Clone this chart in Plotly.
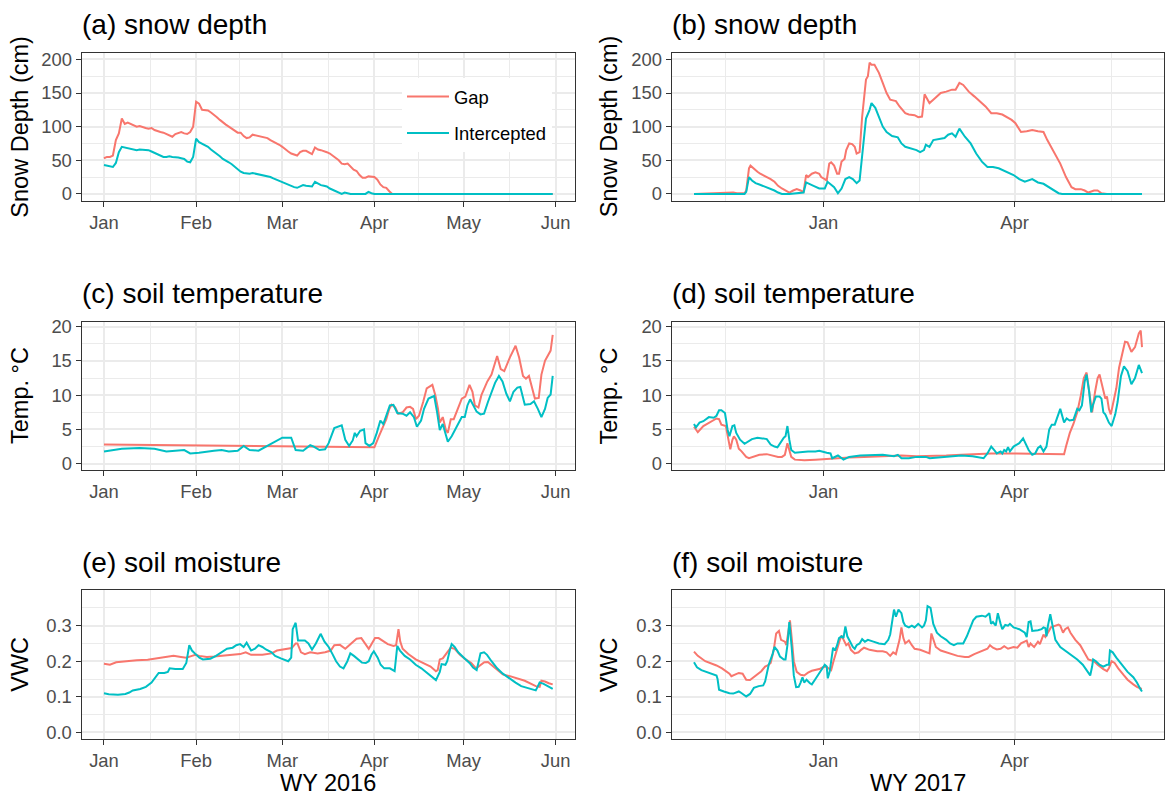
import pandas as pd
import plotly.graph_objects as go

W, H = 1166, 805

# ---------------- data (day offsets from base date) ----------------
BASE16 = "2016-01-01"   # left panels
BASE17 = "2016-11-01"   # right panels

a_gap_day = list(range(0, 98)) + [151]
a_gap_val = [53, 55, 55, 57, 80, 90, 112, 104, 106, 104, 101, 100, 101, 99, 98, 97, 98, 95, 93, 92,
             91, 89, 87, 85, 89, 91, 92, 90, 89, 92, 100, 137, 134, 125, 124, 124, 121, 118, 114, 110,
             106, 103, 100, 97, 93, 91, 91, 86, 83, 84, 88, 87, 86, 86, 85, 83, 80, 78, 75, 73,
             70, 66, 63, 60, 58, 57, 62, 64, 64, 62, 59, 69, 66, 65, 64, 62, 60, 57, 54, 50,
             45, 44, 45, 40, 36, 34, 28, 24, 24, 26, 25, 25, 21, 14, 10, 9, 4, 0, 0]
a_int_day = list(range(0, 84)) + [88, 89, 90, 91, 151]
a_int_val = [43, 42, 41, 40, 46, 62, 70, 69, 68, 67, 65, 65, 66, 66, 65, 65, 63, 61, 59, 57,
             55, 55, 56, 55, 55, 54, 53, 52, 48, 47, 55, 82, 77, 75, 72, 70, 66, 63, 59, 56,
             52, 50, 47, 44, 40, 36, 33, 31, 30, 30, 31, 30, 29, 28, 28, 27, 25, 23, 21, 19,
             17, 15, 13, 12, 10, 9, 11, 13, 12, 11, 11, 18, 15, 13, 12, 11, 8, 6, 4, 2,
             0, 2, 1, 0, 0, 3, 1, 0, 0]

b_gap_day = [0, 18.5, 20.2, 23.8, 24.6, 25.9, 26.6, 28.2, 29.9, 31.2, 32.6, 34.3, 36.1, 37.9, 39.6, 41.4,
             43.1, 44.9, 46.7, 48.4, 50.2, 51.6, 52.8, 53.7, 55.5, 57.2, 59.0, 59.9, 61.6, 62.5, 63.7,
             64.6, 66.0, 67.4, 68.3, 69.5, 70.9, 71.7, 73.1, 74.5, 75.7, 76.6, 78.0, 79.2, 81.0, 81.9,
             82.7, 83.6, 85.0, 87.1, 88.9, 90.7, 92.4, 95.1, 96.8, 99.5, 101.2, 103.9, 105.6, 107.4,
             108.6, 109.7, 110.9, 112.7, 114.4, 116.2, 118.8, 121.5, 123.2, 125.0, 126.8, 129.4, 132.0,
             134.7, 137.3, 140.0, 142.6, 145.2, 147.0, 149.6, 151.4, 154.0, 156.7, 159.3, 162.0, 164.6,
             166.4, 169.9, 172.5, 175.2, 177.8, 179.6, 182.2, 184.0, 185.7, 188.4, 190.1, 191.9, 194.5, 211]
b_gap_val = [0, 2, 1, 1, 5, 38, 42, 37, 33, 30, 28, 25, 22, 18, 12, 8,
             5, 2, 5, 7, 5, 3, 28, 25, 30, 32, 30, 25, 22, 20, 45,
             47, 42, 30, 30, 48, 52, 65, 75, 74, 70, 60, 62, 115, 170, 175,
             195, 192, 192, 180, 165, 150, 140, 138, 130, 120, 118, 117, 114, 115,
             148, 142, 135, 140, 145, 150, 152, 155, 155, 165, 162, 152, 145,
             138, 130, 120, 120, 118, 115, 110, 105, 92, 93, 95, 93, 92,
             80, 60, 45, 25, 10, 7, 7, 5, 2, 5, 5, 1, 0, 0]
b_int_day = [0, 23.8, 24.6, 25.9, 27.3, 29.0, 30.8, 32.6, 34.3, 36.1, 37.9, 39.6, 41.4, 44.9, 48.4, 51.6,
             52.8, 54.6, 56.3, 59.0, 61.6, 62.9, 64.3, 66.0, 67.8, 69.5, 71.3, 73.1, 74.8, 76.6, 78.0,
             79.2, 81.0, 82.7, 83.6, 85.4, 87.1, 88.9, 90.7, 93.3, 96.0, 97.7, 99.5, 102.1, 104.8, 106.5,
             108.3, 109.2, 110.9, 112.7, 115.3, 118.0, 119.7, 121.5, 123.2, 125.0, 127.6, 130.3, 132.9,
             135.6, 138.2, 140.8, 143.5, 147.0, 150.5, 153.2, 155.8, 159.3, 162.0, 164.6, 168.1, 171.7,
             173.4, 211]
b_int_val = [0, 0, 3, 25, 20, 16, 14, 12, 10, 8, 5, 2, 0, 0, 1, 2,
             17, 15, 12, 8, 8, 18, 14, 10, 1, 8, 22, 25, 22, 16, 20,
             60, 112, 125, 135, 128, 115, 100, 92, 86, 84, 75, 70, 68, 65, 62,
             65, 73, 70, 80, 82, 83, 88, 90, 85, 97, 85, 75, 60,
             48, 40, 40, 38, 33, 28, 22, 18, 22, 17, 15, 8, 1,
             0, 0]

c_gap_day = [0, 30, 60, 91, 92.5, 94, 95, 96, 96.8, 98, 99, 100.5, 101.8, 103, 104, 105, 106, 107.4,
             108.6, 110.5, 111.5, 112.4, 113, 114, 115, 115.7, 116.7, 117.7, 119, 120.4, 121.6, 123,
             124, 124.8, 126, 127, 129, 130.4, 132.3, 133.5, 134.7, 136.6, 138.5, 139.7, 141, 142,
             143, 144, 145, 146.3, 147.2, 148.4, 150.3, 151]
c_gap_val = [2.8, 2.65, 2.5, 2.4, 4.0, 5.5, 6.5, 8.0, 8.6, 8.2, 7.3, 7.5, 8.2, 8.3, 8.0, 6.5, 7.0, 9.0,
             11.0, 11.5, 10.0, 8.0, 6.0, 6.8, 5.0, 4.5, 6.5, 6.5, 8.0, 9.5, 9.8, 11.5,
             10.5, 8.5, 8.2, 10.0, 12.0, 13.0, 15.7, 13.8, 13.5, 15.5, 17.2, 15.5, 12.8, 12.4,
             12.8, 11.0, 9.5, 9.6, 13.0, 15.0, 16.5, 18.8]
c_int_day = [0, 6, 12, 17, 21, 24.5, 27, 29, 32, 37, 39.6, 42, 45, 47, 49, 52, 54.5, 56.4, 58, 60, 63,
             64.5, 67, 69.4, 70.6, 72.5, 74.4, 75.6, 77.5, 80, 81.2, 82.5, 83.7, 84.4, 85, 86.2, 87.5,
             88, 89.3, 90.6, 91.8, 93, 94, 95, 96.2, 97.4, 98.7, 100.5, 101.8, 103, 104.3, 105.3,
             106.7, 107.7, 109.2, 110.7, 111.1, 112.1, 113, 114, 114.9, 115.7, 117, 118.6, 120.4,
             121.4, 122.3, 123.2, 124.2, 125.4, 126.7, 127.9, 129.2, 130.4, 131.6, 132.9, 134.1,
             135.4, 136.6, 137.8, 139.1, 140.1, 141, 141.6, 143.5, 144.7, 146, 147.2, 148.4, 149.3,
             150.3, 151]
c_int_val = [1.8, 2.2, 2.3, 2.2, 1.8, 1.9, 2.0, 1.5, 1.6, 1.9, 2.0, 1.8, 1.9, 2.6, 2.0, 1.9, 2.5, 3.0, 3.3, 3.8, 3.8,
             2.0, 1.9, 2.7, 2.5, 2.0, 2.1, 3.0, 5.2, 5.6, 3.5, 2.6, 3.4, 4.5, 4.0, 4.8, 5.0,
             3.0, 2.6, 3.0, 4.5, 6.3, 5.8, 7.0, 8.5, 8.6, 7.4, 7.3, 7.0, 7.5, 6.8, 5.4,
             6.3, 8.0, 9.5, 9.8, 9.9, 7.5, 4.9, 5.8, 4.5, 3.2, 4.0, 5.3, 6.8,
             6.8, 8.5, 9.4, 8.5, 7.6, 7.2, 7.3, 9.0, 10.5, 11.8, 12.8, 12.0,
             10.2, 9.1, 10.5, 11.1, 11.2, 9.5, 8.6, 8.7, 9.1, 8.0, 6.8, 8.0, 9.6,
             10.1, 12.8]

d_gap_day = [0, 1.8, 4.4, 7.0, 8.8, 10.6, 11.8, 12.9, 15.0, 16.2, 17.1, 18.1, 18.8, 19.9, 21.1, 22.4,
             24.6, 25.9, 28.2, 30.8, 34.3, 37.0, 39.6, 41.4, 42.8, 44.0, 44.9, 45.8, 47.5, 52.0, 57.2,
             61.6, 66.0, 73.1, 80.1, 87.1, 97.7, 104.8, 111.8, 118.8, 125.9, 132.9, 140.0, 150.5, 157.6,
             168.1, 174.3, 175.2, 177.0, 178.7, 180.5, 182.2, 183.6, 184.9, 186.3, 187.5, 188.9, 190.1,
             191.0, 192.4, 193.7, 194.5, 195.4, 196.3, 197.7, 198.9, 200.2, 201.6, 203.0, 204.2, 206.0,
             207.7, 209.5, 210.4, 211.0]
d_gap_val = [5.4, 4.6, 5.5, 6.0, 6.3, 6.6, 6.5, 5.7, 5.5, 3.5, 2.1, 3.5, 4.0, 3.5, 2.2, 1.8,
             1.0, 0.8, 1.0, 1.3, 1.4, 1.2, 1.0, 1.0, 1.3, 3.0, 2.0, 1.0, 0.6, 0.5, 0.6,
             0.7, 0.8, 0.9, 1.0, 1.1, 1.2, 1.1, 1.1, 1.2, 1.3, 1.4, 1.5, 1.5, 1.5,
             1.4, 1.4, 2.5, 4.5, 5.8, 7.5, 10.0, 12.5, 13.3, 10.0, 7.5, 10.5, 12.5,
             13.0, 11.0, 9.5, 9.8, 8.0, 7.2, 9.0, 11.0, 14.0, 16.0, 17.8, 17.7, 16.3,
             17.0, 19.0, 19.4, 17.0]
d_int_day = [0, 0.9, 2.6, 4.4, 7.0, 9.3, 10.6, 11.8, 12.9, 14.6, 15.8, 16.7, 18.1, 19.0, 19.9, 21.7,
             23.8, 25.5, 27.3, 29.9, 32.6, 34.3, 36.1, 37.9, 39.3, 40.5, 42.3, 43.1, 44.0, 44.9, 45.8,
             47.5, 50.2, 53.7, 57.2, 59.0, 62.5, 64.3, 65.1, 67.8, 70.4, 73.1, 78.3, 85.4, 88.9, 94.2,
             96.0, 97.7, 101.2, 104.8, 109.2, 111.0, 115.3, 120.6, 125.9, 131.2, 134.7, 136.4, 138.2,
             140.0, 141.4, 142.6, 144.4, 145.2, 146.1, 147.0, 147.9, 148.8, 150.5, 153.2, 155.0, 156.7,
             157.6, 159.3, 160.7, 162.0, 163.2, 164.6, 166.0, 167.3, 168.5, 169.9, 171.3, 172.5, 174.3,
             175.5, 176.9, 178.7, 180.5, 181.5, 182.7, 184.0, 184.9, 186.1, 187.1, 187.8, 189.3, 191.0,
             191.9, 192.8, 193.7, 195.4, 196.7, 197.7, 198.4, 199.5, 201.1, 202.5, 204.2, 206.0, 207.7,
             209.5, 211.0]
d_int_val = [5.8, 5.3, 6.0, 6.2, 6.8, 6.7, 7.0, 7.8, 7.8, 7.4, 5.0, 4.0, 5.5, 5.6, 4.5, 3.5,
             2.9, 3.2, 3.6, 3.8, 3.7, 3.6, 2.8, 2.5, 2.4, 3.0, 3.8, 4.0, 5.5, 3.5, 2.0,
             1.6, 1.7, 1.8, 1.8, 1.9, 1.6, 1.5, 0.8, 1.2, 0.6, 1.0, 1.2, 1.3, 1.3, 1.1,
             1.3, 0.8, 0.8, 1.0, 1.0, 0.8, 0.9, 1.0, 1.2, 1.1, 0.9, 0.8, 1.5,
             2.5, 2.0, 1.5, 1.8, 1.5, 2.0, 1.8, 2.4, 1.8, 2.5, 3.0, 3.7, 2.5,
             2.0, 1.3, 1.5, 2.3, 2.6, 1.8, 2.5, 5.0, 5.7, 5.7, 7.0, 8.0, 6.0,
             6.6, 6.3, 6.4, 8.0, 7.8, 8.5, 12.0, 13.0, 10.5, 7.5, 8.5, 9.8, 9.8,
             9.5, 7.5, 7.2, 6.0, 5.5, 6.5, 7.2, 9.0, 12.8, 14.2, 13.5, 11.6, 12.5,
             14.4, 13.2]

e_gap_day = [0, 2, 4.1, 7.2, 11, 14.7, 17.2, 18.4, 20.3, 22.1, 23.4, 25.9, 27.7, 29.6, 30.8, 32.1, 34.6,
             37.1, 39.6, 42.7, 45.8, 47.7, 49.5, 53.3, 56.4, 58.2, 60.1, 62, 63.2, 64.5, 65.1, 66.3,
             67.6, 69.4, 71.9, 74.4, 76.3, 77.5, 79.4, 81.2, 83.1, 85, 86.6, 88.1, 89.1, 90, 91.2,
             92.4, 94.3, 95.5, 97.4, 98.3, 99.1, 99.7, 100.5, 102.4, 104.9, 107.4, 109.9, 111.7,
             112.3, 113, 114, 115.5, 116.7, 118, 119.8, 121.7, 123.6, 125.2, 126.1, 128, 129.2,
             130.4, 132.3, 134.2, 136.6, 139.1, 141.6, 145.3, 146.6, 147.2, 148.4, 149.7, 151]
e_gap_val = [0.193, 0.190, 0.197, 0.200, 0.203, 0.204, 0.207, 0.210, 0.212, 0.213, 0.215, 0.212, 0.210,
             0.215, 0.218, 0.215, 0.212, 0.213, 0.215, 0.216, 0.220, 0.225, 0.218, 0.218, 0.222, 0.230,
             0.233, 0.235, 0.237, 0.250, 0.250, 0.225, 0.220, 0.225, 0.222, 0.225, 0.230, 0.245, 0.246,
             0.235, 0.250, 0.263, 0.265, 0.245, 0.235, 0.248, 0.265, 0.265, 0.255, 0.248, 0.243, 0.245,
             0.290, 0.255, 0.235, 0.220, 0.205, 0.195, 0.185, 0.172, 0.175, 0.205, 0.208, 0.225, 0.238,
             0.235, 0.218, 0.205, 0.195, 0.180, 0.185, 0.197, 0.198, 0.190, 0.175, 0.163, 0.158, 0.152,
             0.145, 0.130, 0.128, 0.145, 0.143, 0.138, 0.135]
e_int_day = [0, 1.6, 4.7, 7.2, 8.5, 9.7, 12.2, 14.1, 16, 17, 17.8, 18.4, 20.3, 21.5, 22.1, 24, 26.5,
             27.7, 28.7, 29.6, 30.8, 32.1, 33.3, 35.8, 37.7, 39.6, 41.4, 43.3, 44.5, 45.8, 47, 48,
             49.5, 50.8, 52, 53.3, 54.5, 56.4, 57.6, 59.5, 60.7, 62, 63, 63.5, 64.5, 65.3, 67.6, 68.8,
             70, 71.3, 72.5, 72.9, 74.2, 75.6, 76.9, 78.1, 79.4, 80.6, 81.9, 82.9, 84.1, 85.6, 86.8,
             88.1, 89.1, 90, 90.8, 92.1, 93.1, 94.3, 96.2, 97.8, 98.7, 99.6, 101.2, 103, 104.9, 106.8,
             108.6, 110.5, 111.7, 113, 113.6, 114.9, 115.5, 116.5, 117, 118, 119.2, 121.1, 123, 124.2,
             125.4, 126.1, 126.7, 127.9, 128.9, 130.4, 132.3, 134.2, 136.6, 138.5, 140.4, 142.8, 144.7,
             145.3, 145.9, 146.6, 147.8, 149.1, 150.3, 151]
e_int_val = [0.110, 0.107, 0.106, 0.108, 0.112, 0.118, 0.122, 0.128, 0.140, 0.150, 0.158, 0.167, 0.167,
             0.170, 0.180, 0.178, 0.178, 0.195, 0.245, 0.230, 0.220, 0.210, 0.205, 0.207, 0.215, 0.225,
             0.235, 0.238, 0.245, 0.248, 0.240, 0.252, 0.230, 0.235, 0.245, 0.240, 0.233, 0.225, 0.215,
             0.208, 0.205, 0.200, 0.210, 0.290, 0.308, 0.258, 0.258, 0.250, 0.233, 0.250, 0.270, 0.277,
             0.255, 0.240, 0.220, 0.200, 0.185, 0.180, 0.200, 0.222, 0.215, 0.205, 0.196, 0.195, 0.200,
             0.218, 0.228, 0.210, 0.190, 0.180, 0.180, 0.172, 0.243, 0.230, 0.215, 0.205, 0.190, 0.180,
             0.168, 0.155, 0.147, 0.170, 0.192, 0.190, 0.200, 0.235, 0.248, 0.240, 0.225, 0.210, 0.195,
             0.182, 0.175, 0.200, 0.222, 0.225, 0.218, 0.200, 0.180, 0.165, 0.150, 0.140, 0.130, 0.125,
             0.120, 0.118, 0.128, 0.140, 0.137, 0.130, 0.125, 0.122]

f_gap_day = [0, 1.8, 5.3, 7.9, 10.6, 13.2, 15.0, 16.7, 17.6, 19.4, 21.1, 22.9, 23.8, 24.6, 26.4, 28.2,
             29.9, 31.7, 33.5, 35.2, 36.1, 37.5, 38.7, 40.0, 41.0, 42.8, 43.5, 44.5, 45.2, 46.1, 47.0,
             48.4, 50.2, 51.9, 53.7, 55.5, 59.0, 60.7, 62.1, 63.4, 64.6, 65.7, 66.4, 67.8, 68.7, 69.5,
             70.4, 71.7, 72.7, 73.9, 75.7, 77.5, 78.7, 80.1, 82.7, 86.3, 88.9, 90.7, 92.4, 93.8, 95.1,
             96.8, 97.7, 98.6, 99.5, 101.2, 102.6, 103.9, 106.5, 110.0, 110.9, 111.8, 112.7, 113.9,
             116.2, 120.6, 124.1, 127.6, 129.4, 132.0, 135.6, 138.2, 139.4, 140.8, 142.6, 144.4, 146.1,
             147.9, 150.5, 152.3, 154.0, 155.8, 156.7, 157.6, 158.5, 159.3, 160.2, 162.0, 162.9, 164.6,
             165.5, 168.1, 171.7, 172.5, 173.8, 174.8, 176.1, 177.3, 179.6, 181.9, 184.0, 185.7, 188.4,
             190.1, 192.8, 194.5, 195.4, 196.7, 198.1, 199.8, 202.5, 204.2, 206.9, 208.6, 210.9]
f_gap_val = [0.227, 0.215, 0.200, 0.195, 0.188, 0.180, 0.172, 0.165, 0.158, 0.162, 0.167, 0.165, 0.157,
             0.148, 0.147, 0.155, 0.163, 0.172, 0.185, 0.190, 0.195, 0.230, 0.278, 0.285, 0.260, 0.255,
             0.245, 0.280, 0.315, 0.260, 0.200, 0.170, 0.162, 0.160, 0.168, 0.173, 0.178, 0.183, 0.185,
             0.180, 0.175, 0.200, 0.215, 0.245, 0.260, 0.272, 0.260, 0.245, 0.250, 0.232, 0.222, 0.225,
             0.232, 0.238, 0.232, 0.228, 0.228, 0.225, 0.215, 0.225, 0.220, 0.260, 0.295, 0.265, 0.250,
             0.258, 0.245, 0.235, 0.232, 0.225, 0.222, 0.278, 0.260, 0.240, 0.230, 0.222, 0.215, 0.212,
             0.212, 0.220, 0.230, 0.235, 0.245, 0.238, 0.233, 0.235, 0.242, 0.235, 0.240, 0.238, 0.250,
             0.255, 0.258, 0.240, 0.250, 0.245, 0.240, 0.255, 0.248, 0.275, 0.268, 0.295, 0.303, 0.300,
             0.280, 0.290, 0.295, 0.280, 0.260, 0.245, 0.225, 0.205, 0.200, 0.190, 0.178, 0.172, 0.180,
             0.200, 0.195, 0.180, 0.160, 0.148, 0.135, 0.128, 0.122]
f_int_day = [0, 1.4, 3.5, 6.2, 8.8, 10.0, 10.6, 11.1, 11.8, 14.1, 16.7, 18.5, 21.1, 22.0, 23.8, 24.6,
             26.4, 28.2, 30.5, 32.6, 33.5, 34.3, 35.2, 37.0, 37.9, 39.3, 40.5, 42.3, 43.1, 44.0, 44.9,
             46.0, 47.0, 48.1, 49.3, 50.2, 51.1, 51.9, 53.0, 54.6, 55.5, 57.2, 59.0, 60.4, 61.6, 62.5,
             63.0, 63.9, 65.5, 66.4, 67.4, 68.3, 69.5, 70.4, 71.3, 72.2, 73.4, 74.8, 75.7, 76.6, 78.0,
             79.2, 80.5, 81.9, 84.5, 87.1, 89.8, 91.5, 92.4, 93.3, 94.2, 95.1, 96.3, 97.7, 98.6, 99.5,
             101.2, 102.6, 103.9, 105.6, 107.4, 108.3, 109.2, 110.0, 111.4, 112.7, 114.4, 116.2, 118.8,
             120.6, 122.4, 124.1, 126.8, 128.5, 130.3, 131.5, 133.0, 135.6, 137.3, 139.1, 139.9, 140.8,
             142.1, 143.1, 144.4, 145.2, 146.6, 147.9, 148.8, 150.5, 153.2, 155.8, 156.7, 157.6, 158.5,
             159.3, 162.0, 163.7, 164.6, 165.5, 166.0, 166.7, 167.8, 169.0, 170.2, 172.5, 175.2, 177.8,
             180.5, 183.1, 184.9, 186.6, 187.5, 188.0, 189.3, 191.0, 192.8, 194.5, 195.4, 195.9, 197.2,
             198.9, 201.6, 204.2, 206.9, 208.6, 210.4, 211.0]
f_int_val = [0.197, 0.183, 0.175, 0.170, 0.165, 0.162, 0.160, 0.150, 0.120, 0.115, 0.110, 0.109, 0.115,
             0.112, 0.105, 0.101, 0.108, 0.125, 0.130, 0.132, 0.143, 0.165, 0.190, 0.220, 0.240, 0.230,
             0.213, 0.205, 0.205, 0.245, 0.310, 0.240, 0.160, 0.127, 0.128, 0.140, 0.155, 0.140, 0.148,
             0.138, 0.135, 0.150, 0.165, 0.180, 0.190, 0.185, 0.152, 0.170, 0.238, 0.230, 0.245, 0.265,
             0.270, 0.265, 0.298, 0.270, 0.255, 0.240, 0.235, 0.245, 0.250, 0.262, 0.255, 0.260, 0.255,
             0.250, 0.248, 0.260, 0.275, 0.315, 0.345, 0.325, 0.345, 0.335, 0.310, 0.300, 0.295, 0.300,
             0.295, 0.305, 0.295, 0.300, 0.315, 0.355, 0.350, 0.305, 0.280, 0.270, 0.260, 0.250, 0.245,
             0.250, 0.250, 0.270, 0.300, 0.315, 0.325, 0.328, 0.325, 0.335, 0.305, 0.310, 0.300, 0.335,
             0.305, 0.290, 0.302, 0.300, 0.305, 0.295, 0.290, 0.280, 0.268, 0.310, 0.312, 0.285, 0.287,
             0.290, 0.295, 0.293, 0.270, 0.300, 0.332, 0.300, 0.260, 0.240, 0.228, 0.215, 0.205, 0.190,
             0.175, 0.160, 0.185, 0.205, 0.200, 0.190, 0.185, 0.190, 0.190, 0.230, 0.225, 0.210, 0.190,
             0.170, 0.155, 0.140, 0.120, 0.115]

panel_titles = ["(a) snow depth", "(b) snow depth", "(c) soil temperature",
                "(d) soil temperature", "(e) soil moisture", "(f) soil moisture"]
y_titles = ["Snow Depth (cm)", "Snow Depth (cm)", "Temp. °C", "Temp. °C", "VWC", "VWC"]
x_titles = ["WY 2016", "WY 2017"]
series_names = ["Gap", "Intercepted"]

# ---------------- styling ----------------
GAP_COL = "#F8766D"
INT_COL = "#00BFC4"
FONT = "Liberation Sans, Arial, sans-serif"
GRID = "#EBEBEB"
BORDER = "#333333"
TICKCOL = "#4D4D4D"


def dates(base, days):
    b = pd.Timestamp(base)
    return [b + pd.Timedelta(days=float(d)) for d in days]


def px_x(p):
    return p / W


def px_y(p):
    return 1 - p / H


col_dom = [(81.7, 575.0), (671.7, 1164.3)]
row_dom = [(47.3, 197.3), (320.7, 470.0), (592.5, 743.3)]

panels = [
    (a_gap_day, a_gap_val, a_int_day, a_int_val, BASE16, 0, 0),
    (b_gap_day, b_gap_val, b_int_day, b_int_val, BASE17, 1, 0),
    (c_gap_day, c_gap_val, c_int_day, c_int_val, BASE16, 0, 1),
    (d_gap_day, d_gap_val, d_int_day, d_int_val, BASE17, 1, 1),
    (e_gap_day, e_gap_val, e_int_day, e_int_val, BASE16, 0, 2),
    (f_gap_day, f_gap_val, f_int_day, f_int_val, BASE17, 1, 2),
]

yranges = [[-10, 210], [-0.85, 20.62], [-0.019, 0.399]]
ydticks = [50, 5, 0.1]
yminor = [[25, 75, 125, 175], [2.5, 7.5, 12.5, 17.5], [0.05, 0.15, 0.25, 0.35]]
yfmt = ["d", "d", ".1f"]

fig = go.Figure()
layout = dict(
    width=W, height=H, margin=dict(l=0, r=0, t=0, b=0),
    paper_bgcolor="white", plot_bgcolor="white",
    font=dict(family=FONT, color="black"),
    showlegend=True,
    legend=dict(x=px_x(402), y=px_y(73), xanchor="left", yanchor="top",
                bgcolor="white", borderwidth=0, tracegroupgap=9.5, itemwidth=42,
                font=dict(family=FONT, size=18.4, color="black")),
)
annotations = []

for i, (gd, gv, idd, iv, base, col, row) in enumerate(panels):
    n = i + 1
    xa = "x" if n == 1 else f"x{n}"
    ya = "y" if n == 1 else f"y{n}"
    for name, dd, vv, color in [(series_names[0], gd, gv, GAP_COL), (series_names[1], idd, iv, INT_COL)]:
        fig.add_trace(go.Scatter(
            x=dates(base, dd), y=vv, mode="lines", name=name,
            line=dict(color=color, width=2), legendgroup=name,
            showlegend=(n == 1), xaxis=xa, yaxis=ya, hoverinfo="skip"))

    if col == 0:
        xr = ["2015-12-24 12:00", "2016-06-07 12:00"]
        xdt, xt0 = "M1", "2016-01-01"
        xminor = ["2016-01-16 12:00", "2016-02-15 12:00", "2016-03-16 12:00",
                  "2016-04-16", "2016-05-16 12:00"]
    else:
        xr = ["2016-10-21 12:00", "2017-06-10 12:00"]
        xdt, xt0 = "M3", "2017-01-01"
        xminor = ["2016-11-16", "2017-02-15", "2017-05-16 12:00"]

    axis_common = dict(
        showline=True, mirror=True, linecolor=BORDER, linewidth=1.3,
        ticks="outside", ticklen=5, tickwidth=1.1, tickcolor=BORDER,
        showgrid=True, gridcolor=GRID, gridwidth=1.8, zeroline=False,
        tickfont=dict(family=FONT, size=18.4, color=TICKCOL),
    )
    key_x = "xaxis" if n == 1 else f"xaxis{n}"
    key_y = "yaxis" if n == 1 else f"yaxis{n}"
    layout[key_x] = dict(
        axis_common, domain=[px_x(col_dom[col][0]), px_x(col_dom[col][1])],
        anchor=ya, type="date", range=xr, dtick=xdt, tick0=xt0, tickformat="%b",
        minor=dict(tickmode="array", tickvals=xminor, showgrid=True, gridcolor=GRID,
                   gridwidth=0.9, ticks=""),
    )
    layout[key_y] = dict(
        axis_common, domain=[px_y(row_dom[row][1]), px_y(row_dom[row][0])],
        anchor=xa, range=yranges[row], tickmode="linear", tick0=0, dtick=ydticks[row],
        tickformat=yfmt[row],
        minor=dict(tickmode="array", tickvals=yminor[row], showgrid=True, gridcolor=GRID,
                   gridwidth=0.9, ticks=""),
    )

    # panel title
    title_center = [18.5, 291, 564][row]
    annotations.append(dict(
        text=panel_titles[i], xref="paper", yref="paper",
        x=px_x(col_dom[col][0] - 2), y=px_y(title_center), xanchor="left", yanchor="middle",
        showarrow=False, font=dict(family=FONT, size=28, color="black")))
    # y-axis title
    ytx = [20, 608.5][col]
    annotations.append(dict(
        text=y_titles[i], xref="paper", yref="paper", textangle=-90,
        x=px_x(ytx), y=px_y((row_dom[row][0] + row_dom[row][1]) / 2),
        xanchor="center", yanchor="middle", showarrow=False,
        font=dict(family=FONT, size=23.5, color="black")))

for col in range(2):
    annotations.append(dict(
        text=x_titles[col], xref="paper", yref="paper",
        x=px_x((col_dom[col][0] + col_dom[col][1]) / 2), y=px_y(788),
        xanchor="center", yanchor="middle", showarrow=False,
        font=dict(family=FONT, size=23.5, color="black")))

layout["annotations"] = annotations
fig.update_layout(**layout)
fig.write_html("out.html")
